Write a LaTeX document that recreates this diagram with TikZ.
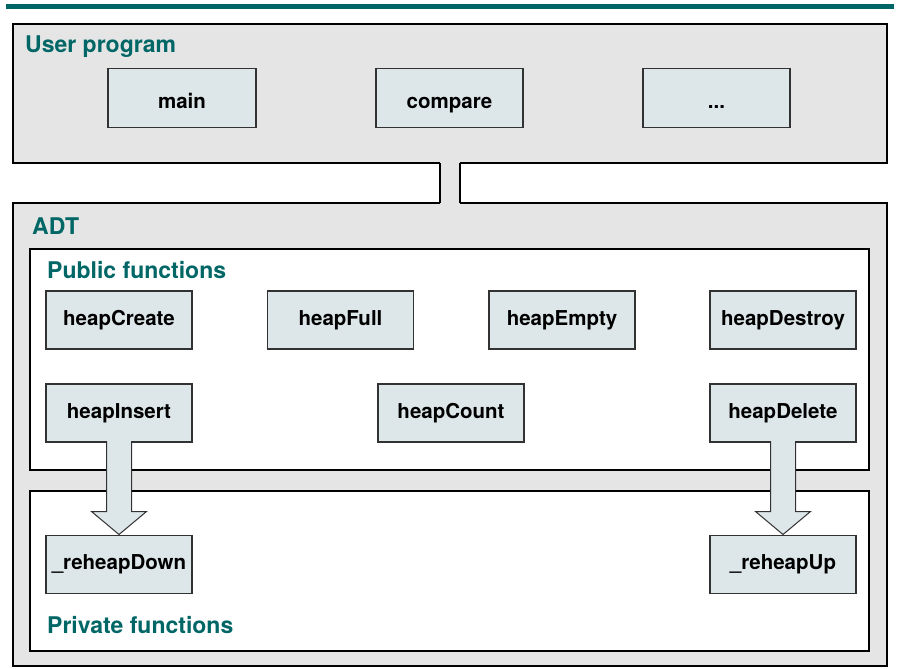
\documentclass[tikz,border=0pt]{standalone}
\usepackage{fontspec}
\setmainfont{TeX Gyre Heros}
\usetikzlibrary{calc}
\definecolor{adtteal}{RGB}{0,102,102}
\definecolor{panelgray}{RGB}{229,229,229}
\definecolor{funcfill}{RGB}{221,230,232}
\definecolor{edgegray}{RGB}{50,50,50}

\begin{document}
\begin{tikzpicture}[x=1pt,y=-1pt,
  panel/.style={draw=black,line width=2.6pt,anchor=north west,inner sep=0pt,outer sep=0pt},
  title/.style={anchor=base west,text=adtteal,font=\fontsize{23}{23}\selectfont\bfseries,inner sep=0pt},
  func/.style={draw=edgegray,line width=1.6pt,fill=funcfill,minimum width=146pt,minimum height=58pt,
    inner sep=0pt,outer sep=0pt,text height=15pt,text depth=4.5pt,
    font=\fontsize{20.5}{20.5}\selectfont\bfseries},
  userfunc/.style={func,minimum width=147pt,minimum height=59pt,text height=20pt,text depth=0pt},
  fatarrow/.style={draw=edgegray,line width=1pt,fill=funcfill}]
\useasboundingbox (0,0) rectangle (897,669);

% Title rule
\fill[adtteal] (6,4) rectangle (894,9);

% User program layer
\node[panel,fill=panelgray,minimum width=874pt,minimum height=139pt] (user) at (13,24) {};
\node[title] (usertitle) at (25,53) {User program};
\node[userfunc,minimum width=148pt] (main) at (182,98) {main};
\node[userfunc] (compare) at (449.5,98) {compare};
\node[userfunc] (more) at (716.5,98) {...};

% ADT layer
\node[panel,fill=panelgray,minimum width=874pt,minimum height=463pt] (adt) at (13,203) {};
\node[title] (adttitle) at (32,234) {ADT};

% Link between the layers
\coordinate (linktop) at ($(user.south)+(0,-4)$);
\coordinate (linkbot) at ($(adt.north)+(0,4)$);
\path[fill=panelgray,draw=none] ([xshift=-10pt]linktop) rectangle ([xshift=10pt]linkbot);
\draw[line width=2.6pt] ([xshift=-10pt]user.south) -- ([xshift=-10pt]adt.north)
  ([xshift=10pt]user.south) -- ([xshift=10pt]adt.north);

% Public functions
\node[panel,fill=white,minimum width=839pt,minimum height=221pt] (public) at (30,249) {};
\node[title] (pubtitle) at (47,278) {Public functions};
\node[func] (create) at (119,320) {heapCreate};
\node[func] (full) at (340.5,320) {heapFull};
\node[func] (empty) at (562,320) {heapEmpty};
\node[func] (destroy) at (783,320) {heapDestroy};
\node[func] (insert) at (119,413) {heapInsert};
\node[func] (count) at (451,413) {heapCount};
\node[func] (delete) at (783,413) {heapDelete};

% Private functions
\node[panel,fill=white,minimum width=839pt,minimum height=160pt] (private) at (30,491) {};
\node[title] (privtitle) at (47,633) {Private functions};
\node[func] (down) at (119,564.5) {\_reheapDown};
\node[func] (up) at (783,564.5) {\_reheapUp};

% Calls into the private functions
\foreach \from/\to in {insert/down, delete/up}
  \draw[fatarrow] ($(\from.south)+(-12.5,-1)$) -- ($(\to.north)+(-12.5,-24)$)
    -- ($(\to.north)+(-27.5,-24)$) -- ($(\to.north)+(0,-1)$)
    -- ($(\to.north)+(27.5,-24)$) -- ($(\to.north)+(12.5,-24)$)
    -- ($(\from.south)+(12.5,-1)$);
\end{tikzpicture}
\end{document}
